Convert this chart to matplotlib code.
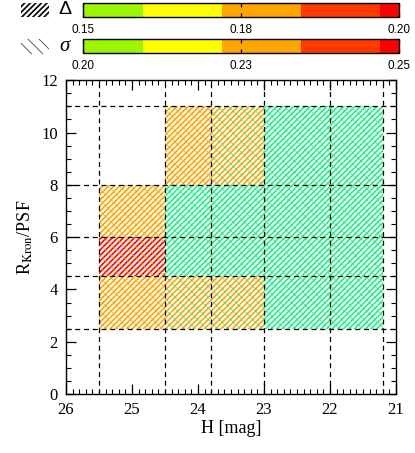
import numpy as np
import matplotlib
matplotlib.use("Agg")
import matplotlib.pyplot as plt
from matplotlib.colors import ListedColormap, BoundaryNorm
from matplotlib.cm import ScalarMappable
from matplotlib.patches import Rectangle
from matplotlib.ticker import MultipleLocator

# ---------------- data ----------------
x_edges = [25.5, 24.5, 23.8, 23.0, 22.0, 21.2]     # H [mag] bin edges
y_edges = [2.5, 4.5, 6.0, 8.0, 11.0]              # R_Kron/PSF bin edges
nan = np.nan
# rows: y bins (bottom->top), cols: x bins
delta = [
    [0.178, 0.178, 0.178, 0.140, 0.140],
    [0.198, 0.140, 0.140, 0.140, 0.140],
    [0.178, 0.140, 0.140, 0.140, 0.140],
    [nan,   0.178, 0.178, 0.140, 0.140],
]
sigma = [
    [0.228, 0.190, 0.190, 0.190, 0.190],
    [0.228, 0.190, 0.190, 0.190, 0.190],
    [0.228, 0.190, 0.190, 0.190, 0.190],
    [nan,   0.228, 0.190, 0.190, 0.190],
]
delta_bounds = [0.15, 0.1595, 0.172, 0.1845, 0.197, 0.20]
sigma_bounds = [0.20, 0.2095, 0.222, 0.2345, 0.247, 0.25]
delta_ticks = [0.15, 0.175, 0.20]
delta_ticklabels = ["0.15", "0.18", "0.20"]
sigma_ticks = [0.20, 0.225, 0.25]
sigma_ticklabels = ["0.20", "0.23", "0.25"]
level_colors = ["#9cf500", "#ffff00", "#ffa500", "#ff3a00", "#ff0000"]
under_color = "#22ee88"

# ---------------- style ----------------
plt.rcParams["font.family"] = ["Liberation Serif", "DejaVu Serif"]
plt.rcParams["mathtext.fontset"] = "stix"

cmap = ListedColormap(level_colors).with_extremes(under=under_color)
dnorm = BoundaryNorm(delta_bounds, ncolors=len(level_colors))
snorm = BoundaryNorm(sigma_bounds, ncolors=len(level_colors))

fig = plt.figure(figsize=(4.15, 4.53), dpi=100)
ax = fig.add_axes([0.159, 0.130, 0.795, 0.693])


def hatch_layer(values, norm, hatch, lw, z):
    vals = np.asarray(values, dtype=float)
    for j in range(vals.shape[0]):
        for i in range(vals.shape[1]):
            v = vals[j, i]
            if np.isnan(v):
                continue
            c = cmap(norm(v))
            bars = ax.bar(x_edges[i], y_edges[j + 1] - y_edges[j],
                          width=x_edges[i + 1] - x_edges[i],
                          bottom=y_edges[j], align="edge",
                          facecolor="none", edgecolor=c, hatch=hatch,
                          linewidth=0, zorder=z)
            for b in bars:
                if hasattr(b, "set_hatch_linewidth"):
                    b.set_hatch_linewidth(lw)


plt.rcParams["hatch.linewidth"] = 1.2
hatch_layer(delta, dnorm, "//////", 1.2, 1)
hatch_layer(sigma, snorm, "\\\\\\", 0.5, 2)

for xe in x_edges:
    ax.axvline(xe, color="black", ls=(0, (4, 3)), lw=0.9, zorder=3)
for ye in y_edges:
    ax.axhline(ye, color="black", ls=(0, (4, 3)), lw=0.9, zorder=3)

ax.set_xlim(26, 21)
ax.set_ylim(0, 12)
ax.xaxis.set_major_locator(MultipleLocator(1))
ax.xaxis.set_minor_locator(MultipleLocator(0.1))
ax.yaxis.set_major_locator(MultipleLocator(2))
ax.yaxis.set_minor_locator(MultipleLocator(0.5))
ax.tick_params(which="both", direction="in", top=True, right=True)
ax.tick_params(which="major", length=7, width=0.9, labelsize=12, pad=6)
ax.tick_params(which="minor", length=3.5, width=0.8)
for s in ax.spines.values():
    s.set_linewidth(1.0)
ax.set_xlabel("H [mag]", fontsize=13, labelpad=1)
ax.set_ylabel(r"R$_{\rm Kron}$/PSF", fontsize=13, labelpad=4)

# ---------------- colour bars ----------------
def colorbar(rect, norm, ticks, labels):
    cax = fig.add_axes(rect)
    cb = fig.colorbar(ScalarMappable(norm=norm, cmap=cmap), cax=cax,
                      orientation="horizontal", spacing="proportional")
    cb.outline.set_linewidth(1.0)
    cb.set_ticks(ticks)
    cb.set_ticklabels(labels)
    cax.tick_params(which="both", direction="in", length=3, width=0.9,
                    top=True, labelsize=8.5, pad=5)
    cax.minorticks_off()
    for t in cax.get_xticklabels():
        t.set_fontfamily(["Liberation Sans", "DejaVu Sans"])
    return cax


colorbar([0.200, 0.9625, 0.761, 0.031], dnorm, delta_ticks, delta_ticklabels)
colorbar([0.200, 0.883, 0.761, 0.030], snorm, sigma_ticks, sigma_ticklabels)

# legend swatches
plt.rcParams["hatch.linewidth"] = 1.2
r1 = Rectangle((0.050, 0.9625), 0.067, 0.031, transform=fig.transFigure,
               facecolor="none", edgecolor="black", hatch="//////",
               linewidth=0)
r2 = Rectangle((0.050, 0.880), 0.067, 0.034, transform=fig.transFigure,
               facecolor="none", edgecolor="#444444", hatch="\\\\\\",
               linewidth=0)
for r in (r1, r2):
    fig.add_artist(r)
if hasattr(r2, "set_hatch_linewidth"):
    r2.set_hatch_linewidth(0.6)
fig.text(0.140, 0.978, "Δ", fontsize=14, va="center", ha="left",
         family=["Liberation Sans", "DejaVu Sans"])
fig.text(0.142, 0.897, "σ", fontsize=15, va="center", ha="left",
         family=["Liberation Serif", "DejaVu Serif"], style="italic")

fig.savefig("out.png", dpi=100)
